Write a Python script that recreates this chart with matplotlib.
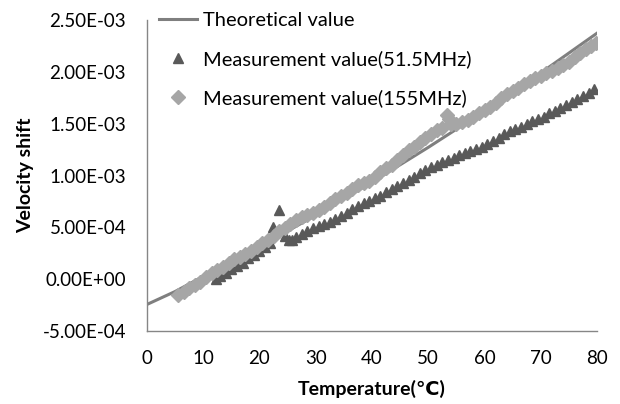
import matplotlib
matplotlib.use("Agg")
import matplotlib.pyplot as plt
from matplotlib.ticker import FuncFormatter

# Theoretical curve
theo_T = [0, 5, 10, 20, 30, 40, 50, 60, 70, 80]
theo_V = [-2.45e-4, -1.2e-4, 2.6e-5, 3.12e-4, 6.16e-4, 9.36e-4, 1.272e-3, 1.623e-3, 1.991e-3, 2.375e-3]

# Measurement 51.5 MHz (x1e-3)
m51_T = [12.3, 13, 14, 15, 16, 17, 18, 19, 20, 21, 21.8, 22.4, 23.5, 23.8, 24.5, 25.2, 25.8,
         26.5, 27.5, 28.5, 29.5, 30.5, 31.5, 32.5, 33.5, 34.5, 35.5, 36.5, 37.5, 38.5, 39.5,
         40.5, 41.5, 42.5, 43.5, 44.5, 45.5, 46.5, 47.5, 48.5, 49.5, 50.5, 51.5, 52.5, 53.5,
         54.5, 55.5, 56.5, 57.5, 58.5, 59.5, 60.5, 61.5, 62.5, 63.5, 64.5, 65.5, 66.5, 67.5,
         68.5, 69.5, 70.5, 71.5, 72.5, 73.5, 74.5, 75.5, 76.5, 77.5, 78.5, 79.5]
m51_V = [0.00, 0.03, 0.06, 0.10, 0.13, 0.16, 0.20, 0.23, 0.27, 0.31, 0.35, 0.50, 0.67, 0.47, 0.42, 0.38, 0.38,
         0.41, 0.44, 0.46, 0.49, 0.51, 0.53, 0.55, 0.58, 0.61, 0.64, 0.68, 0.71, 0.73, 0.75,
         0.78, 0.80, 0.84, 0.87, 0.90, 0.93, 0.96, 0.99, 1.02, 1.05, 1.08, 1.10, 1.13, 1.15,
         1.17, 1.20, 1.22, 1.24, 1.26, 1.28, 1.30, 1.33, 1.36, 1.40, 1.43, 1.45, 1.47, 1.50,
         1.53, 1.55, 1.57, 1.60, 1.62, 1.65, 1.68, 1.71, 1.74, 1.77, 1.80, 1.84]

# Measurement 155 MHz (x1e-3)
m155_T = [5.5, 6.5, 7.5, 8.5, 9.5, 10.5, 11.5, 12.5, 13.5, 14.5, 15.5, 16.5, 17.5, 18.5, 19.5,
          20.5, 21.5, 22.5, 23.5, 24.5, 25.5, 26.5, 27.5, 28.5, 29.5, 30.5, 31.5, 32.5, 33.5,
          34.5, 35.5, 36.5, 37.5, 38.5, 39.5, 40.5, 41.5, 42.5, 43.5, 44.5, 45.5, 46.5, 47.5,
          48.5, 49.5, 50.5, 51.5, 52.5, 53.3, 53.6, 54, 55, 56, 57, 58, 59, 60, 61, 62, 63, 64,
          65, 66, 67, 68, 69, 70, 71, 72, 73, 74, 75, 76, 77, 78, 79, 79.8]
m155_V = [-0.15, -0.12, -0.09, -0.06, -0.03, 0.02, 0.06, 0.09, 0.12, 0.16, 0.19, 0.21, 0.24, 0.27, 0.31,
          0.35, 0.38, 0.42, 0.46, 0.49, 0.53, 0.57, 0.60, 0.62, 0.64, 0.67, 0.70, 0.73, 0.77,
          0.80, 0.83, 0.87, 0.91, 0.93, 0.95, 0.99, 1.03, 1.07, 1.10, 1.15, 1.20, 1.25, 1.28,
          1.32, 1.36, 1.40, 1.44, 1.46, 1.58, 1.55, 1.50, 1.50, 1.52, 1.54, 1.57, 1.60, 1.63, 1.66, 1.70, 1.75, 1.79,
          1.82, 1.85, 1.88, 1.91, 1.94, 1.96, 1.99, 2.01, 2.04, 2.07, 2.10, 2.14, 2.18, 2.22, 2.25, 2.28]

x_ticks = [0, 10, 20, 30, 40, 50, 60, 70, 80]
y_ticks = [-5e-4, 0, 5e-4, 1e-3, 1.5e-3, 2e-3, 2.5e-3]

plt.rcParams['font.family'] = ['Lato', 'DejaVu Sans']

fig = plt.figure(figsize=(6.2, 4.04), dpi=100)
ax = fig.add_axes([0.237, 0.181, 0.726, 0.769])

ax.plot(theo_T, theo_V, color='#7f7f7f', lw=2.2, label='Theoretical value', zorder=2)
ax.plot(m51_T, [v * 1e-3 for v in m51_V], ls='none', marker='^', ms=7.5, color='#595959',
        mec='#595959', label='Measurement value(51.5MHz)', zorder=3)
ax.plot(m155_T, [v * 1e-3 for v in m155_V], ls='none', marker='D', ms=7.5, color='#a6a6a6',
        mec='#a6a6a6', label='Measurement value(155MHz)', zorder=4)

ax.set_xlim(0, 80)
ax.set_ylim(-5e-4, 2.5e-3)
ax.set_xticks(x_ticks)
ax.set_yticks(y_ticks)

def fmt(v, pos):
    s = "%.2E" % v
    if abs(v) < 1e-12:
        s = "0.00E+00"
    return s

ax.yaxis.set_major_formatter(FuncFormatter(fmt))
ax.tick_params(axis='both', length=0, labelsize=13.5, colors='#000000')
ax.tick_params(axis='y', pad=15)
ax.tick_params(axis='x', pad=14)

for s in ['top', 'right']:
    ax.spines[s].set_visible(False)
for s in ['left', 'bottom']:
    ax.spines[s].set_color('#868686')
    ax.spines[s].set_linewidth(1.0)

ax.set_xlabel('Temperature(℃)', fontsize=14, fontweight='bold', labelpad=9)
ax.set_ylabel('Velocity shift', fontsize=14, fontweight='bold', labelpad=6)

leg = ax.legend(loc='upper left', bbox_to_anchor=(0.0, 1.065), frameon=False, fontsize=14.5,
                labelspacing=1.05, handlelength=1.9, handletextpad=0.3, borderaxespad=0.2)

fig.savefig('out.png', dpi=100)
